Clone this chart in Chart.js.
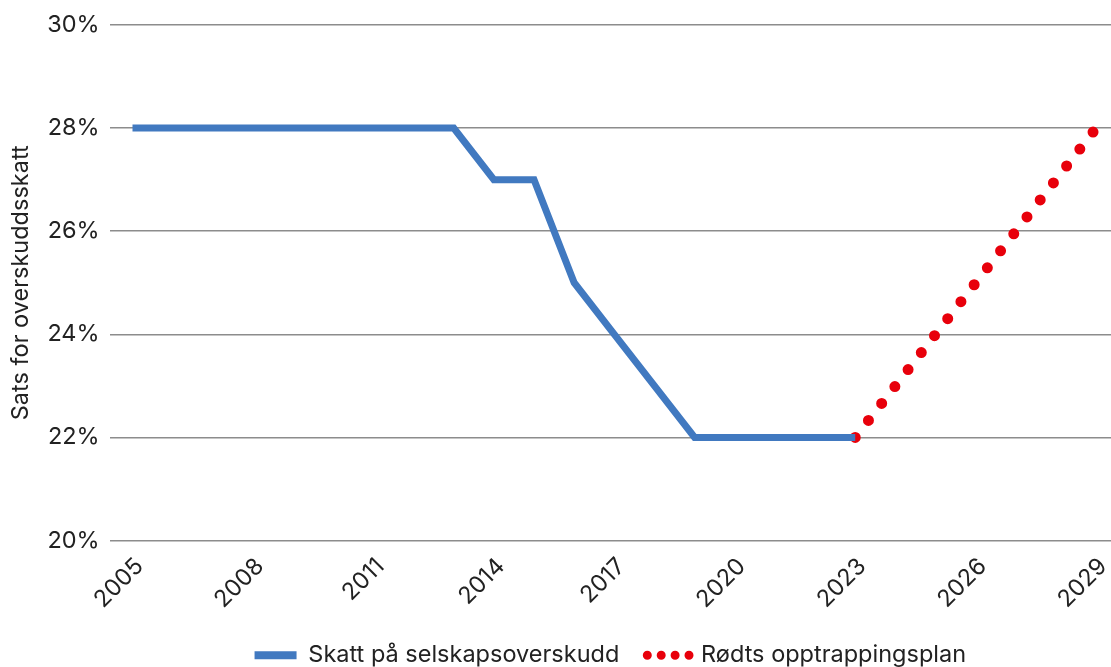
<!DOCTYPE html>
<html>
<head>
<meta charset="utf-8">
<script src="https://cdn.jsdelivr.net/npm/chart.js@4.4.1/dist/chart.umd.min.js"></script>
<style>
  html, body { margin: 0; padding: 0; background: #fff; }
  #wrap { width: 1111px; height: 667px; }
</style>
</head>
<body>
<div id="wrap"><canvas id="chart"></canvas></div>
<script>
// Data
const years = [2005, 2006, 2007, 2008, 2009, 2010, 2011, 2012, 2013, 2014,
  2015, 2016, 2017, 2018, 2019, 2020, 2021, 2022, 2023];
const skatt = [28, 28, 28, 28, 28, 28, 28, 28, 28, 27,
  27, 25, 24, 23, 22, 22, 22, 22, 22];
const planYears = [2023, 2024, 2025, 2026, 2027, 2028, 2029];
const plan = [22, 23, 24, 25, 26, 27, 28];
const tickYears = [2005, 2008, 2011, 2014, 2017, 2020, 2023, 2026, 2029];
const yTicks = [20, 22, 24, 26, 28, 30];

const blue = '#4179c0';
const red = '#e8000b';
const textColor = '#222';
const fontFamily = 'Inter, "Noto Sans", sans-serif';
const fontSize = 23.5;

const ctx = document.getElementById('chart').getContext('2d');
const chart = new Chart(ctx, {
  type: 'line',
  data: {
    datasets: [
      {
        label: 'Skatt på selskapsoverskudd',
        data: years.map((y, i) => ({ x: y, y: skatt[i] })),
        borderColor: blue,
        backgroundColor: blue,
        borderWidth: 7,
        pointRadius: 0,
        tension: 0
      },
      {
        label: 'Rødts opptrappingsplan',
        data: planYears.map((y, i) => ({ x: y, y: plan[i] })),
        borderColor: red,
        backgroundColor: red,
        borderWidth: 11,
        borderDash: [0, 21.5],
        borderCapStyle: 'round',
        pointRadius: 0,
        tension: 0
      }
    ]
  },
  options: {
    responsive: true,
    maintainAspectRatio: false,
    animation: false,
    layout: { padding: { top: 25, right: 0, left: 0, bottom: -10 } },
    plugins: {
      tooltip: { enabled: false },
      legend: {
        position: 'bottom',
        fullSize: false,
        labels: {
          usePointStyle: true,
          pointStyleWidth: 42,
          padding: 28,
          color: textColor,
          font: { family: fontFamily, size: fontSize },
          generateLabels: (c) => c.data.datasets.map((ds, i) => ({
            text: ds.label,
            datasetIndex: i,
            fillStyle: ds.borderColor,
            strokeStyle: ds.borderColor,
            fontColor: textColor,
            lineWidth: i === 0 ? 8 : 9,
            lineDash: i === 0 ? [] : [0, 13.9],
            lineCap: i === 0 ? 'butt' : 'round',
            pointStyle: 'line',
            hidden: false
          }))
        }
      }
    },
    scales: {
      x: {
        type: 'linear',
        min: 2004.43,
        max: 2029.37,
        afterBuildTicks: (s) => { s.ticks = tickYears.map(v => ({ value: v })); },
        afterFit: (s) => {
          s.height = 75;
          s.paddingLeft = 0;
          s.paddingRight = 0;
        },
        grid: { display: false },
        border: { display: false },
        ticks: {
          minRotation: 45,
          maxRotation: 45,
          autoSkip: false,
          padding: 4,
          labelOffset: 7,
          color: textColor,
          font: { family: fontFamily, size: fontSize },
          callback: (v) => String(v)
        }
      },
      y: {
        min: 20,
        max: 30,
        afterBuildTicks: (s) => { s.ticks = yTicks.map(v => ({ value: v })); },
        grid: { color: '#8c8c8c', lineWidth: 1.5, drawTicks: false },
        border: { display: false },
        ticks: {
          padding: 10,
          color: textColor,
          font: { family: fontFamily, size: fontSize },
          callback: (v) => v + '%'
        },
        title: {
          display: true,
          text: 'Sats for overskuddsskatt',
          color: textColor,
          font: { family: fontFamily, size: fontSize },
          padding: { top: 7, bottom: 2 }
        }
      }
    }
  }
});
</script>
</body>
</html>
